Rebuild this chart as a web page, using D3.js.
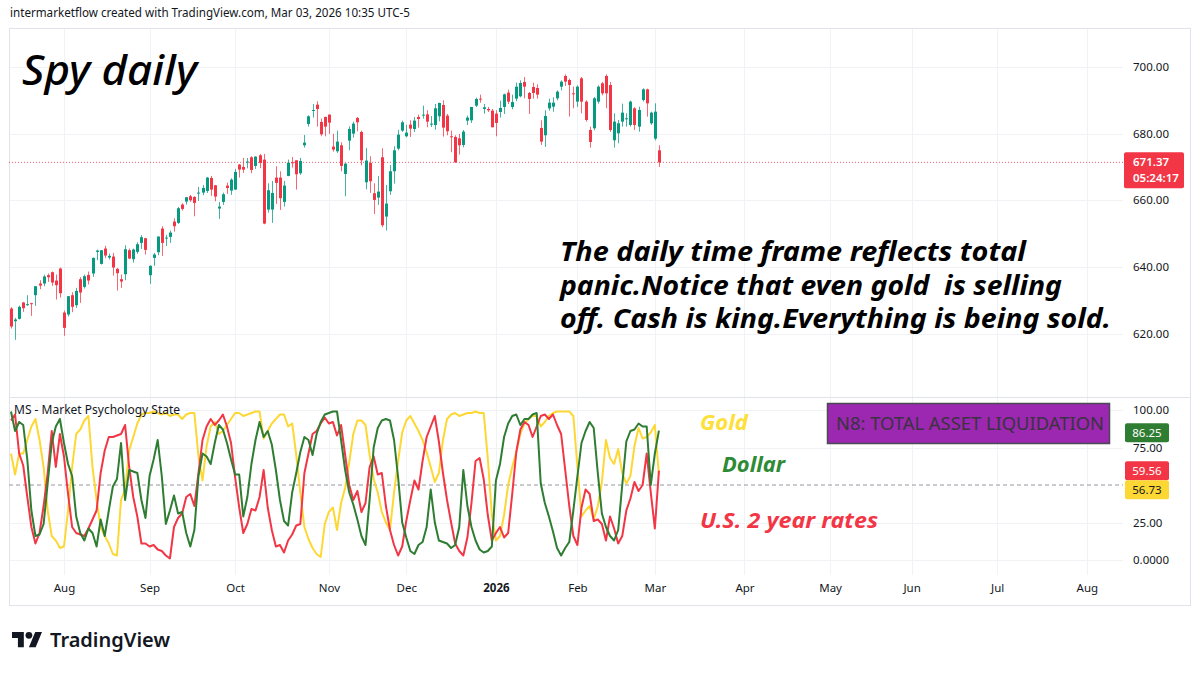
<!DOCTYPE html>
<html><head><meta charset="utf-8">
<script src="https://cdn.jsdelivr.net/npm/d3@7"></script>
<style>body{margin:0;background:#fff;}svg{display:block;}</style>
</head><body>
<svg id="chart" width="1200" height="675"></svg>
<script>
// ---- DATA (SPY daily, Jul 15 2025 -> Mar 03 2026) ----
const openP = [627.5,623.7,624.4,629.3,628.8,629.1,631.5,635.0,635.0,637.5,638.4,635.9,639.5,626.3,625.7,631.5,628.5,636.3,634.0,637.6,
638.0,644.5,640.9,645.5,642.8,643.1,639.4,636.3,637.8,645.0,642.3,644.5,647.2,648.6,637.5,642.7,644.4,651.5,648.6,649.0,
653.6,653.2,658.7,659.6,661.2,661.0,662.1,662.3,662.8,666.7,664.5,657.5,659.5,664.4,662.9,663.2,670.7,670.0,671.4,672.9,
670.3,673.5,672.2,657.2,657.2,666.8,666.8,659.5,667.3,671.4,672.0,668.1,676.5,682.9,687.0,688.7,683.5,685.0,685.7,676.1,
674.7,676.5,667.9,677.9,680.0,684.7,680.5,665.4,671.2,662.1,660.8,672.9,655.1,662.7,668.7,675.5,680.9,679.2,682.7,681.4,
685.0,685.5,685.8,683.0,682.6,685.2,688.6,685.4,679.2,679.0,678.6,676.6,683.9,684.0,688.4,690.5,687.4,687.4,686.9,686.0,
686.5,688.0,692.3,688.0,690.5,691.2,695.5,692.2,694.0,693.7,681.7,679.5,687.6,688.1,690.6,694.1,697.3,696.1,692.1,689.6,
696.6,689.6,681.1,681.6,689.6,695.1,697.3,694.6,678.0,680.1,683.6,684.4,682.6,687.6,682.1,690.1,693.3,683.1,678.5,675.0];
const highP = [627.9,624.7,628.4,629.5,631.5,629.2,634.2,636.0,637.6,638.0,638.6,637.7,639.8,626.9,631.2,632.4,633.7,636.9,637.7,638.6,
642.8,645.2,645.0,646.3,644.0,644.2,639.7,637.7,646.5,645.5,645.5,647.4,649.5,648.7,640.5,644.2,649.2,652.2,649.6,650.9,
654.6,658.0,659.1,661.0,661.6,661.2,664.0,664.6,667.0,667.3,664.6,659.5,662.3,665.3,666.6,669.4,670.9,672.7,672.7,673.2,
673.2,673.9,673.9,665.1,665.8,670.2,668.7,665.8,672.2,673.0,672.0,672.7,679.6,685.5,688.9,689.7,684.5,685.1,685.8,680.0,
680.9,677.4,671.1,682.2,683.6,685.0,680.9,675.7,673.2,665.1,667.3,675.6,664.6,670.6,676.2,681.1,683.9,682.7,684.0,685.0,
685.7,688.4,687.0,685.3,688.9,689.3,690.0,685.9,680.9,679.5,679.9,681.1,685.4,688.0,690.8,691.7,688.9,688.0,687.4,687.0,
689.9,692.0,693.2,691.7,695.3,696.0,697.0,692.5,695.3,694.8,684.0,687.0,690.5,690.9,693.0,696.0,697.8,696.5,694.1,694.5,
697.0,690.0,682.1,691.0,694.5,695.5,697.8,695.5,686.1,684.1,689.0,686.1,689.9,687.9,688.1,693.6,693.5,686.6,689.1,676.5];
const lowP = [621.5,618.1,624.2,626.5,628.3,625.3,628.3,633.3,634.2,635.5,634.3,630.2,630.8,619.3,625.1,626.4,627.7,629.2,633.5,634.7,
637.0,642.0,640.7,642.6,642.2,637.4,632.9,633.7,636.0,642.3,641.3,643.9,645.4,643.7,634.9,640.3,643.5,643.3,646.3,647.2,
650.6,652.9,656.9,658.7,659.5,655.2,659.8,661.5,662.2,661.3,659.7,654.4,658.6,661.9,661.6,663.1,666.8,668.2,669.6,668.1,
669.4,669.6,652.8,656.3,653.2,658.9,657.1,658.1,667.2,669.8,663.2,667.6,675.8,682.1,684.8,682.1,679.2,679.2,679.9,674.6,
674.2,668.7,661.2,675.0,678.8,680.7,670.5,663.3,662.2,655.9,658.6,651.9,650.9,661.6,665.0,675.0,680.5,678.9,679.0,680.5,
681.8,684.5,681.9,682.0,681.2,683.7,679.1,679.5,674.4,671.2,673.7,675.9,682.6,683.2,688.0,689.3,686.0,686.5,681.9,679.2,
684.8,685.9,688.9,687.3,689.7,690.9,690.6,685.9,690.5,690.5,676.6,676.0,686.9,686.6,690.0,693.0,694.3,685.1,687.6,688.0,
686.1,683.6,675.8,681.0,689.0,691.5,687.6,680.5,675.8,677.1,682.1,682.1,682.1,681.1,680.6,689.6,685.1,682.6,678.0,670.0];
const closeP = [622.1,624.2,628.0,627.6,628.8,628.9,634.2,634.4,637.1,636.9,635.3,634.5,632.1,621.7,631.2,628.0,632.8,632.3,637.2,635.9,
642.7,644.9,645.0,643.4,643.3,639.8,638.1,635.6,645.3,642.5,645.2,646.8,648.9,645.1,640.3,643.7,649.1,647.2,648.8,650.3,
652.2,657.6,657.4,660.9,660.0,659.2,662.3,663.7,666.8,663.2,661.1,658.1,661.8,663.7,666.2,668.5,669.2,669.2,671.6,669.1,
673.1,671.2,653.0,663.0,662.2,665.2,660.6,664.4,671.3,671.3,667.8,671.8,677.3,685.2,687.1,687.4,679.8,682.1,683.3,675.2,
677.6,670.3,671.0,681.4,683.0,683.4,672.0,671.9,665.7,660.1,662.6,652.5,659.0,668.7,675.0,679.7,683.4,680.3,681.5,683.9,
684.4,685.7,683.6,683.0,687.6,689.2,681.8,680.7,678.9,671.4,676.5,680.6,684.8,688.0,690.4,690.3,687.9,687.0,681.9,683.2,
687.7,691.8,689.6,689.5,694.1,695.2,694.1,690.4,692.2,691.7,677.6,685.3,689.3,689.3,692.6,695.6,695.6,694.6,692.0,694.1,
689.6,684.1,677.5,690.6,694.1,692.1,692.1,681.1,683.6,683.1,686.3,684.6,689.6,682.6,687.1,693.3,689.1,686.3,686.6,671.37];

// Market Psychology State oscillator (0-100)
const goldMS = [71,57,71,71,80,89,94,80,62,33,16,13,8,9,33,62,84,87,93,96,
62,40,22,16,11,4,3,40,47,73,82,91,97,98,98,99,98,97,98,96,
97,97,94,97,98,98,69,53,76,89,92,84,86,90,94,98,98,96,97,98,
99,99,81,86,91,94,97,97,89,91,70,45,22,14,8,4,2,24,32,35,
20,38,48,65,84,93,93,90,70,54,45,32,25,20,45,66,85,93,96,91,
86,80,72,62,52,58,80,94,97,98,96,97,98,98,99,98,98,68,30,13,
16,30,50,62,72,84,91,94,96,96,89,92,96,98,99,99,99,99,96,62,
29,33,36,27,36,52,80,68,64,74,58,51,56,76,88,81,82,85,90,56.73];
const dollarMS = [99,86,92,90,67,33,16,17,24,51,78,89,94,78,64,56,29,18,13,21,
18,9,27,16,33,49,54,78,40,60,59,58,40,28,56,67,80,56,24,33,
43,31,32,18,9,20,56,71,69,64,78,90,87,78,67,57,57,29,42,64,
80,92,82,86,77,60,40,26,23,45,58,72,82,80,70,84,92,97,98,99,
99,80,60,45,37,27,16,10,40,75,88,93,94,93,80,55,25,15,6,4,
10,12,22,47,25,13,12,11,8,10,22,60,36,22,13,7,5,6,9,53,
64,82,91,96,97,90,94,94,97,98,51,38,29,19,8,3,8,12,33,56,
78,86,92,88,58,31,22,16,13,20,50,79,86,87,91,89,89,50,71,86.25];
const rates2yMS = [93,97,71,63,42,22,11,18,36,58,86,62,84,69,44,22,18,17,16,21,
27,33,58,73,82,82,83,84,90,62,42,29,11,11,9,10,7,6,3,1,
22,28,31,42,44,36,58,80,89,94,90,93,97,89,78,55,35,18,24,34,
33,42,60,35,20,9,10,5,13,17,23,24,58,71,84,86,91,95,91,92,
83,90,70,50,40,46,32,38,62,69,57,58,36,20,10,3,9,26,40,53,
47,66,82,89,96,79,58,40,25,11,6,3,15,38,66,68,54,30,13,18,
22,15,18,44,72,87,92,90,82,89,96,97,94,97,90,84,60,36,16,10,
35,47,44,26,27,24,13,29,21,11,16,33,41,52,46,50,71,45,21,59.56];

// Time axis (bar index of first trading day of each month)
const monthLabels = ["Aug","Sep","Oct","Nov","Dec","2026","Feb","Mar","Apr","May","Jun","Jul","Aug"];
const monthIdx = [13,34,55,78,97,119,139,158,180,201,221,242,264];
const priceTicks = [620,640,660,680,700];
const oscTicks = [0,25,75,100];
const oscTickLabels = ["0.0000","25.00","75.00","100.00"];

// ---- DRAW ----
const svg = d3.select("#chart");
const FONT = "'Noto Sans', 'Liberation Sans', sans-serif";
const UP = "#089981", DOWN = "#f23645";
const C_GOLD = "#fdd835", C_DOLLAR = "#2e7d32", C_RATE = "#f23645";
const paneL = 9, paneR = 1123;

const x = d3.scaleLinear().domain([0, 264]).range([11, 11 + 264 * 4.075]);
const yP = d3.scaleLinear().domain([620, 700]).range([333.5, 67]);
const yO = d3.scaleLinear().domain([0, 100]).range([560, 410]);

// header
svg.append("text").attr("x", 10).attr("y", 17).attr("font-family", FONT).attr("font-size", 12)
  .attr("fill", "#131722").attr("textLength", 400).attr("lengthAdjust", "spacingAndGlyphs")
  .text("intermarketflow created with TradingView.com, Mar 03, 2026 10:35 UTC-5");

// grid
const grid = svg.append("g").attr("stroke", "#f0f2f6").attr("stroke-width", 1);
monthIdx.forEach(i => {
  const gx = Math.round(x(i)) + 0.5;
  grid.append("line").attr("x1", gx).attr("x2", gx).attr("y1", 28).attr("y2", 575);
});
priceTicks.forEach(p => {
  const gy = Math.round(yP(p)) + 0.5;
  grid.append("line").attr("x1", paneL).attr("x2", paneR).attr("y1", gy).attr("y2", gy);
});
oscTicks.forEach(v => {
  const gy = Math.round(yO(v)) + 0.5;
  grid.append("line").attr("x1", paneL).attr("x2", paneR).attr("y1", gy).attr("y2", gy);
});

// frame / separators
const frame = svg.append("g").attr("stroke", "#e0e3eb").attr("fill", "none");
frame.append("rect").attr("x", 9.5).attr("y", 28.5).attr("width", 1181).attr("height", 577);
frame.append("line").attr("x1", 9).attr("x2", 1190).attr("y1", 397.5).attr("y2", 397.5);

// last price line
svg.append("line").attr("x1", paneL).attr("x2", paneR)
  .attr("y1", yP(closeP[closeP.length - 1])).attr("y2", yP(closeP[closeP.length - 1]))
  .attr("stroke", "#f23645").attr("stroke-width", 1).attr("stroke-dasharray", "1,2").attr("opacity", 0.8);

// candles
const idx = d3.range(closeP.length);
const cg = svg.append("g");
cg.selectAll("line.w").data(idx).enter().append("line")
  .attr("x1", i => Math.round(x(i)) + 0.5).attr("x2", i => Math.round(x(i)) + 0.5)
  .attr("y1", i => yP(highP[i])).attr("y2", i => yP(lowP[i]))
  .attr("stroke", i => closeP[i] >= openP[i] ? UP : DOWN).attr("stroke-width", 1).attr("opacity", 0.75);
cg.selectAll("rect").data(idx).enter().append("rect")
  .attr("x", i => Math.round(x(i)) - 1).attr("width", 3)
  .attr("y", i => yP(Math.max(openP[i], closeP[i])))
  .attr("height", i => Math.max(1, Math.abs(yP(openP[i]) - yP(closeP[i]))))
  .attr("fill", i => closeP[i] >= openP[i] ? UP : DOWN);

// price axis
const pAxis = svg.append("g").attr("transform", "translate(1133,0)")
  .call(d3.axisRight(yP).tickValues(priceTicks).tickFormat(d3.format(".2f")).tickSize(0).tickPadding(0));
pAxis.select(".domain").remove();
pAxis.selectAll("text").attr("font-family", FONT).attr("font-size", 11.5).attr("fill", "#131722");

// price tag
const lastY = yP(closeP[closeP.length - 1]);
svg.append("rect").attr("x", 1124).attr("y", lastY - 10).attr("width", 60).attr("height", 36).attr("rx", 2).attr("fill", "#f23645");
svg.append("text").attr("x", 1133).attr("y", lastY + 4).attr("font-family", FONT).attr("font-size", 11.5)
  .attr("font-weight", 600).attr("fill", "#fff").text(d3.format(".2f")(closeP[closeP.length - 1]));
svg.append("text").attr("x", 1133).attr("y", lastY + 20).attr("font-family", FONT).attr("font-size", 11.5)
  .attr("font-weight", 600).attr("fill", "#fff").text("05:24:17");

// title + annotation
svg.append("text").attr("x", 22).attr("y", 85).attr("font-family", FONT).attr("font-size", 42)
  .attr("font-style", "italic").attr("font-weight", 500).attr("fill", "#000")
  .attr("textLength", 175).attr("lengthAdjust", "spacingAndGlyphs").text("Spy daily");
const notes = ["The daily time frame reflects total", "panic.Notice that even gold  is selling", "off. Cash is king.Everything is being sold."];
const noteW = [466, 502, 551];
notes.forEach((t, k) => {
  svg.append("text").attr("x", 560).attr("y", 261 + k * 33.5).attr("font-family", FONT).attr("font-size", 27)
    .attr("font-style", "italic").attr("font-weight", 700).attr("fill", "#000").attr("xml:space", "preserve")
    .style("white-space", "pre")
    .attr("textLength", noteW[k]).attr("lengthAdjust", "spacingAndGlyphs").text(t);
});

// oscillator pane
svg.append("line").attr("x1", paneL).attr("x2", paneR).attr("y1", yO(50)).attr("y2", yO(50))
  .attr("stroke", "#9598a1").attr("stroke-width", 1).attr("stroke-dasharray", "4,3");
const line = d3.line().x((d, i) => x(i)).y(d => yO(d));
[[goldMS, C_GOLD], [rates2yMS, C_RATE], [dollarMS, C_DOLLAR]].forEach(([s, c]) => {
  svg.append("path").datum(s).attr("d", line).attr("fill", "none").attr("stroke", c)
    .attr("stroke-width", 2).attr("stroke-linejoin", "round");
});
svg.append("text").attr("x", 14).attr("y", 414).attr("font-family", FONT).attr("font-size", 12)
  .attr("fill", "#131722").text("MS - Market Psychology State");

// oscillator axis
const oAxis = svg.append("g").attr("transform", "translate(1133,0)")
  .call(d3.axisRight(yO).tickValues(oscTicks).tickFormat((d, i) => oscTickLabels[i]).tickSize(0).tickPadding(0));
oAxis.select(".domain").remove();
oAxis.selectAll("text").attr("font-family", FONT).attr("font-size", 11.5).attr("fill", "#131722");

// value tags
const tags = [
  {v: dollarMS[dollarMS.length - 1], fill: "#2e7d32", tc: "#fff", cy: yO(dollarMS[dollarMS.length - 1]) + 2},
  {v: rates2yMS[rates2yMS.length - 1], fill: "#f23645", tc: "#fff", cy: yO(rates2yMS[rates2yMS.length - 1])},
  {v: goldMS[goldMS.length - 1], fill: "#fdd835", tc: "#131722", cy: yO(rates2yMS[rates2yMS.length - 1]) + 19}
];
tags.forEach(t => {
  svg.append("rect").attr("x", 1125).attr("y", t.cy - 9.5).attr("width", 44).attr("height", 19).attr("rx", 2).attr("fill", t.fill);
  svg.append("text").attr("x", 1147).attr("y", t.cy + 4.5).attr("text-anchor", "middle").attr("font-family", FONT)
    .attr("font-size", 11.5).attr("fill", t.tc).text(d3.format(".2f")(t.v));
});

// labels in oscillator pane
const lbl = [["Gold", 700, 430, 48, "#fde03a"], ["Dollar", 722, 472, 63, "#2e8b35"], ["U.S. 2 year rates", 700, 528, 178, "#f23645"]];
lbl.forEach(([t, lx, ly, w, c]) => {
  svg.append("text").attr("x", lx).attr("y", ly).attr("font-family", FONT).attr("font-size", 22)
    .attr("font-style", "italic").attr("font-weight", 700).attr("fill", c)
    .attr("textLength", w).attr("lengthAdjust", "spacingAndGlyphs").text(t);
});
svg.append("rect").attr("x", 827.5).attr("y", 403.5).attr("width", 282).attr("height", 40)
  .attr("fill", "#9c27b0").attr("stroke", "#4a4a55").attr("stroke-width", 1.5);
svg.append("text").attr("x", 836).attr("y", 430).attr("font-family", FONT).attr("font-size", 18)
  .attr("fill", "#3a3340").attr("textLength", 268).attr("lengthAdjust", "spacingAndGlyphs")
  .text("N8: TOTAL ASSET LIQUIDATION");

// time axis
const tAxis = svg.append("g").attr("transform", "translate(0,584)")
  .call(d3.axisBottom(x).tickValues(monthIdx).tickFormat((d, i) => monthLabels[i]).tickSize(0).tickPadding(0));
tAxis.select(".domain").remove();
tAxis.selectAll("text").attr("font-family", FONT).attr("font-size", 11.5).attr("fill", "#131722")
  .attr("font-weight", (d, i) => monthLabels[i] === "2026" ? 700 : 400);

// TradingView logo
const logo = svg.append("g").attr("transform", "translate(12,628.6) scale(0.845)").attr("fill", "#131722");
logo.append("path").attr("d", "M14 22H7V11H0V4h14v18zM28 22h-8l7.5-18h8L28 22z");
logo.append("circle").attr("cx", 20).attr("cy", 8).attr("r", 4);
svg.append("text").attr("x", 50).attr("y", 647).attr("font-family", FONT).attr("font-size", 19.5)
  .attr("font-weight", 600).attr("fill", "#131722").attr("textLength", 120).attr("lengthAdjust", "spacingAndGlyphs")
  .text("TradingView");
</script>
</body></html>
